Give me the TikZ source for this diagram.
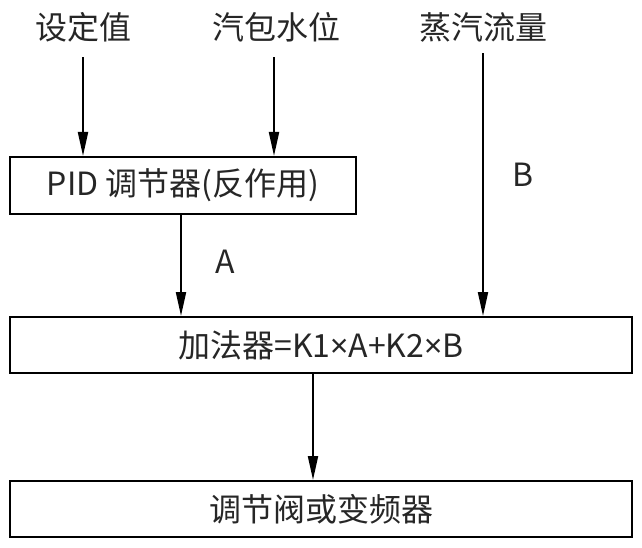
\documentclass[tikz,border=0pt]{standalone}
\usepackage{fontspec}
\setmainfont{Noto Sans CJK SC}
\newfontfamily\latinfont{Noto Sans}
\newcommand{\tms}{{\latinfont ×}}
\usetikzlibrary{arrows.meta}
\tikzset{
  box/.style={draw, line width=2pt, inner sep=0pt, text=black!85},
  lbl/.style={inner sep=0pt, text=black!85, font=\fontsize{32}{36}\selectfont},
  arr/.style={line width=2pt, -{Triangle[length=24pt,width=10pt]}},
  ln/.style={line width=2pt}
}
\begin{document}
\begin{tikzpicture}[x=1pt,y=-1pt]
\useasboundingbox (0,0) rectangle (642,548);
\node[lbl, minimum height=60pt] (l1) at (83,27) {设定值};
\node[lbl, minimum height=60pt] (l2) at (276,27) {汽包水位};
\node[lbl, minimum height=52pt] (l3) at (483,27) {蒸汽流量};
\node[box, lbl, minimum width=346pt, minimum height=57pt] (pid) at (183,185.5) {PID 调节器(反作用)};
\node[box, lbl, minimum width=622pt, minimum height=56pt] (add) at (321,345) {加法器=K1\tms A+K2\tms B};
\node[box, lbl, minimum width=622pt, minimum height=56pt] (out) at (321,509) {调节阀或变频器};
\node[lbl] (la) at (225,262) {A};
\node[lbl] (lb) at (523,175) {B};
\draw[arr] (l1.south) -- (l1.south |- pid.north);
\draw[arr] (l2.south -| 274,0) -- (274,0 |- pid.north);
\draw[arr] ([xshift=-2pt]pid.south) -- ([xshift=-2pt]pid.south |- add.north);
\draw[arr] (l3.south) -- (l3.south |- add.north);
\draw[arr] ([xshift=-8pt]add.south) -- ([xshift=-8pt]add.south |- out.north);
\end{tikzpicture}
\end{document}
